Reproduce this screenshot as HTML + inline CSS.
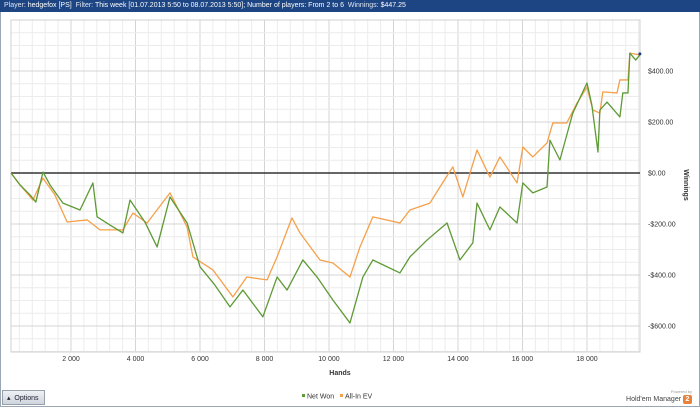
<!DOCTYPE html>
<html><head><meta charset="utf-8">
<style>
html,body{margin:0;padding:0;width:700px;height:407px;overflow:hidden;background:#fff;font-family:"Liberation Sans",sans-serif;}
#frame{position:absolute;left:0;top:0;width:698px;height:405px;border:1px solid #9aa6b4;background:#fff;}
#hdr{position:absolute;left:0;top:0;width:700px;height:12px;background:#1d4583;color:#dfe6f2;font-size:7px;line-height:12px;padding-left:4px;white-space:nowrap;}
#hdr b{color:#fff;font-weight:normal;}
#opt{position:absolute;left:2px;top:390px;width:43px;height:15px;background:linear-gradient(#eef1f5,#cfd5dd);border:1px solid #97a0ab;font-size:7px;line-height:15px;color:#223;box-sizing:border-box;padding-left:4px;}
#brand{position:absolute;right:8px;top:388px;font-size:7px;color:#444;text-align:right;}
</style></head><body>
<div id="frame"></div>
<div id="hdr">Player: <b>hedgefox [PS]</b> &nbsp;Filter: <b>This week [01.07.2013 5:50 to 08.07.2013 5:50]; Number of players: From 2 to 6</b> &nbsp;Winnings: <b>$447.25</b></div>
<svg id="chart" width="700" height="407" style="position:absolute;left:0;top:0"></svg>
<div id="opt">&#9652;&nbsp; Options</div>
<div id="brand"><span style="font-size:4px;color:#999">Powered by</span><br>Hold'em Manager <span style="display:inline-block;width:9px;height:9px;background:#e8823a;color:#fff;border-radius:2px;text-align:center;font-weight:bold;line-height:9px">2</span></div>
<script>
const xTicks=[2000,4000,6000,8000,10000,12000,14000,16000,18000];
const yTicks=[400,200,0,-200,-400,-600];
const netHands=[140,420,730,910,1130,1350,1750,2280,2680,2810,3210,3610,3830,4290,4670,5070,5600,6000,6460,6930,7330,7950,8390,8700,9190,9630,10120,10650,11050,11360,12200,12510,13040,13660,14060,14460,14590,14990,15300,15830,16010,16320,16760,16850,17160,17560,18000,18150,18340,18400,18620,19020,19110,19270,19330,19510,19640];
const netWon=[0,-47,-86,-114,4,-47,-118,-145,-39,-172,-204,-235,-106,-192,-290,-94,-196,-368,-439,-525,-459,-564,-408,-459,-341,-408,-498,-588,-408,-341,-392,-329,-263,-196,-341,-274,-118,-223,-133,-196,-39,-78,-55,129,51,235,353,267,82,247,278,220,314,314,470,443,463];
const evHands=[140,420,820,1130,1500,1880,2500,2900,3610,3920,4360,5070,5600,5780,6400,7020,7450,8080,8390,8850,9100,9720,10120,10650,10960,11360,12200,12510,13130,13440,13840,14150,14590,14990,15300,15830,16010,16320,16760,16940,17370,17690,18000,18180,18400,18490,18930,19020,19270,19330,19640];
const allinEV=[0,-47,-106,-20,-86,-192,-184,-223,-223,-157,-196,-78,-212,-329,-380,-486,-408,-419,-329,-176,-235,-341,-353,-408,-290,-172,-196,-145,-118,-55,24,-94,90,-16,63,-39,102,63,118,196,196,274,337,247,235,318,314,365,365,470,463];
const L=11,R=640,T=20,B=352;
const X=h=>6.5+h*0.03225;
const Y=v=>173-v*0.255;
const svg=document.getElementById('chart');
const NS='http://www.w3.org/2000/svg';
function mk(t,a){const e=document.createElementNS(NS,t);for(const k in a)e.setAttribute(k,a[k]);svg.appendChild(e);return e;}
// grid
for(let h=400;X(h)<R;h+=400){const g=mk('line',{x1:X(h),x2:X(h),y1:T,y2:B,stroke:h%2000===0?'#d4d4d4':'#ececec','stroke-width':1});

}
for(let v=-700;v<=600;v+=50){if(Y(v)<T||Y(v)>B)continue;const g=mk('line',{x1:L,x2:R,y1:Y(v),y2:Y(v),stroke:v%200===0?'#d4d4d4':'#ececec','stroke-width':1});

}
const box=mk('rect',{x:L,y:T,width:R-L,height:B-T,fill:'none',stroke:'#d0d0d0'});


const zl=mk('line',{x1:L,x2:R,y1:Y(0),y2:Y(0),stroke:'#333','stroke-width':1.6});


xTicks.forEach(h=>{const t=mk('text',{x:X(h),y:361,'font-size':7,'text-anchor':'middle',fill:'#333'});t.textContent=h.toLocaleString('en-US').replace(',',' ');

});
yTicks.forEach(v=>{const t=mk('text',{x:648,y:Y(v)+2.5,'font-size':7,fill:'#333'});t.textContent=(v<0?'-':'')+'$'+Math.abs(v).toFixed(2);

});
const xt=mk('text',{x:340,y:375,'font-size':7,'font-weight':'bold','text-anchor':'middle',fill:'#333'});xt.textContent='Hands';


const yt=mk('text',{x:684,y:185,'font-size':7,'font-weight':'bold','text-anchor':'middle',fill:'#333',transform:'rotate(90 684 185)'});yt.textContent='Winnings';


function line(hs,vs,c,name){const p=mk('polyline',{points:hs.map((h,i)=>X(h)+','+Y(vs[i])).join(' '),fill:'none',stroke:c,'stroke-width':1.3,'stroke-linejoin':'round'});

}
line(evHands,allinEV,'#f5a04a','all-in-ev-line');
line(netHands,netWon,'#5e9a35','net-won-line');
const m1=mk('circle',{cx:X(netHands[netHands.length-1]),cy:Y(netWon[netWon.length-1])-1,r:1.5,fill:'#1d3f8a'});


// legend
const lg=[['#5e9a35','Net Won',302],['#f5a04a','All-In EV',340]];
lg.forEach(([c,n,x])=>{const r=mk('rect',{x:x,y:394,width:3,height:3,fill:c});


const t=mk('text',{x:x+5,y:398.5,'font-size':7,fill:'#333'});t.textContent=n;

});
</script>
</body></html>
